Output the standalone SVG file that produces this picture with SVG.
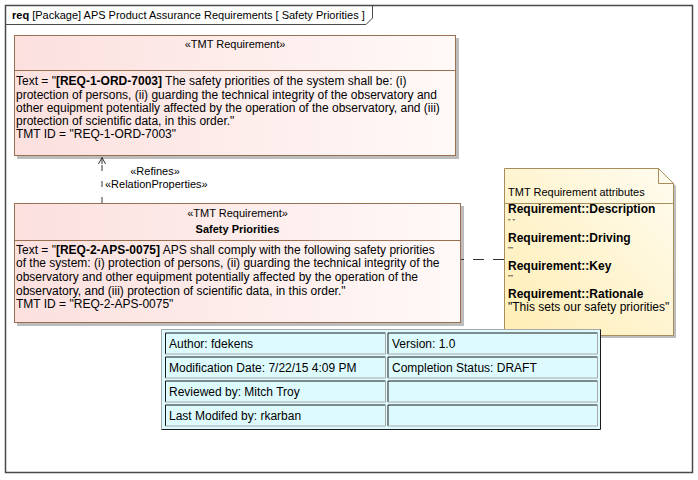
<svg xmlns="http://www.w3.org/2000/svg" width="698" height="480" viewBox="0 0 698 480">
<defs>
<linearGradient id="reqGrad" x1="0" y1="0" x2="1" y2="0">
<stop offset="0" stop-color="#FBE0DE"/>
<stop offset="1" stop-color="#FFF9F8"/>
</linearGradient>
<linearGradient id="noteGrad" x1="0" y1="1" x2="1" y2="0">
<stop offset="0" stop-color="#FFEDB3"/>
<stop offset="1" stop-color="#FFFCF0"/>
</linearGradient>
</defs>
<style>
text { font-family: "Liberation Sans", Arial, sans-serif; fill: #000; }
.t11 { font-size: 11px; }
.t12 { font-size: 12px; }
.b { font-weight: bold; }
.mid { text-anchor: middle; }
.req { fill: url(#reqGrad); stroke: #9A7052; stroke-width: 1; }
.reqline { stroke: #9A7052; stroke-width: 1; }
.shadow { fill: #BDBDBD; }
.note { fill: url(#noteGrad); stroke: #A88E5C; stroke-width: 1; }
.cell { fill: #DDFBFF; }
.dark { stroke: #1A1A1A; stroke-width: 1; fill: none; }
.light { stroke: #A8A8A8; stroke-width: 1; fill: none; }
.conn { fill: none; stroke: #333; stroke-width: 1; }
.q { font-size: 7px; }
</style>

<rect x="0" y="0" width="698" height="480" fill="#FFFFFF"/>

<g id="frame">
<rect x="5.5" y="5.5" width="687" height="467" fill="none" stroke="#4A4A4A" stroke-width="1.5"/>
<path d="M5.5,24.5 H366 L372.5,18 V5.5" fill="none" stroke="#4A4A4A" stroke-width="1"/>
<text x="12" y="19" class="t11"><tspan class="b">req</tspan> [Package] APS Product Assurance Requirements [ Safety Priorities ]</text>
</g>

<g id="req1">
<rect x="17" y="38" width="442" height="121" class="shadow"/>
<rect x="14.5" y="35.5" width="441" height="120" class="req"/>
<line x1="14.5" y1="70.5" x2="455.5" y2="70.5" class="reqline"/>
<text x="235" y="48" class="t11 mid">«TMT Requirement»</text>
<text x="16" y="85" class="t12">Text = "<tspan class="b">[REQ-1-ORD-7003]</tspan> The safety priorities of the system shall be: (i)</text>
<text x="16" y="98.5" class="t12">protection of persons, (ii) guarding the technical integrity of the observatory and</text>
<text x="16" y="111.8" class="t12">other equipment potentially affected by the operation of the observatory, and (iii)</text>
<text x="16" y="125" class="t12">protection of scientific data, in this order."</text>
<text x="16" y="138.3" class="t12">TMT ID = "REQ-1-ORD-7003"</text>
</g>

<g id="req2">
<rect x="17" y="206" width="447" height="120" class="shadow"/>
<rect x="14.5" y="203.5" width="446" height="119" class="req"/>
<line x1="14.5" y1="240.5" x2="460.5" y2="240.5" class="reqline"/>
<text x="237.5" y="217" class="t11 mid">«TMT Requirement»</text>
<text x="237.5" y="233" class="t11 mid b">Safety Priorities</text>
<text x="16" y="253.5" class="t12">Text = "<tspan class="b">[REQ-2-APS-0075]</tspan> APS shall comply with the following safety priorities</text>
<text x="16" y="267.2" class="t12">of the system: (i) protection of persons, (ii) guarding the technical integrity of the</text>
<text x="16" y="280.9" class="t12">observatory and other equipment potentially affected by the operation of the</text>
<text x="16" y="294.6" class="t12">observatory, and (iii) protection of scientific data, in this order."</text>
<text x="16" y="308.3" class="t12">TMT ID = "REQ-2-APS-0075"</text>
</g>

<g id="note">
<path d="M507,171 H661 L676,186 V338 H507 Z" class="shadow"/>
<path d="M504.5,168.5 H658.5 L673.5,183.5 V335.5 H504.5 Z" class="note"/>
<path d="M658.5,168.5 V183.5 H673.5" fill="none" stroke="#A88E5C" stroke-width="1"/>
<line x1="504.5" y1="203.5" x2="673.5" y2="203.5" stroke="#A88E5C" stroke-width="1"/>
<text x="508" y="196" class="t11">TMT Requirement attributes</text>
<text x="508" y="213.3" class="t12 b">Requirement::Description</text>
<text x="508" y="224" class="q">" "</text>
<text x="508" y="241.5" class="t12 b">Requirement::Driving</text>
<text x="508" y="252" class="q">""</text>
<text x="508" y="269.7" class="t12 b">Requirement::Key</text>
<text x="508" y="280.2" class="q">""</text>
<text x="508" y="297.5" class="t12 b">Requirement::Rationale</text>
<text x="508" y="311" class="t12">"This sets our safety priorities"</text>
</g>

<g id="connectors">
<path d="M102,203 V158" class="conn" stroke-dasharray="6,10"/>
<path d="M98.5,164 L102,157.5 L105.5,164" class="conn"/>
<line x1="102" y1="157.5" x2="102" y2="164" class="conn"/>
<text x="155" y="175" class="t11 mid">«Refines»</text>
<text x="105" y="187.5" class="t11">«RelationProperties»</text>
<path d="M504,259.5 H461" class="conn" stroke-dasharray="11,9"/>
</g>

<g id="infoTable">
<rect x="161.5" y="329.5" width="439" height="100" fill="#DDFBFF"/>
<path d="M161.5,429.5 V329.5 H600.5" class="light"/>
<path d="M600.5,329.5 V429.5 H161.5" class="dark"/>

<rect x="165.5" y="333" width="220" height="21" class="cell"/>
<path d="M165.5,354 V333 H385.5" class="dark"/><path d="M385.5,333 V354 H165.5" class="light"/>
<rect x="388" y="333" width="210" height="21" class="cell"/>
<path d="M388,354 V333 H597.5" class="dark"/><path d="M597.5,333 V354 H388" class="light"/>

<rect x="165.5" y="357" width="220" height="21" class="cell"/>
<path d="M165.5,378 V357 H385.5" class="dark"/><path d="M385.5,357 V378 H165.5" class="light"/>
<rect x="388" y="357" width="210" height="21" class="cell"/>
<path d="M388,378 V357 H597.5" class="dark"/><path d="M597.5,357 V378 H388" class="light"/>

<rect x="165.5" y="381" width="220" height="21" class="cell"/>
<path d="M165.5,402 V381 H385.5" class="dark"/><path d="M385.5,381 V402 H165.5" class="light"/>
<rect x="388" y="381" width="210" height="21" class="cell"/>
<path d="M388,402 V381 H597.5" class="dark"/><path d="M597.5,381 V402 H388" class="light"/>

<rect x="165.5" y="405" width="220" height="21" class="cell"/>
<path d="M165.5,426 V405 H385.5" class="dark"/><path d="M385.5,405 V426 H165.5" class="light"/>
<rect x="388" y="405" width="210" height="21" class="cell"/>
<path d="M388,426 V405 H597.5" class="dark"/><path d="M597.5,405 V426 H388" class="light"/>

<text x="169" y="347.5" class="t12">Author: fdekens</text>
<text x="392" y="347.5" class="t12">Version: 1.0</text>
<text x="169" y="371.5" class="t12">Modification Date: 7/22/15 4:09 PM</text>
<text x="392" y="371.5" class="t12">Completion Status: DRAFT</text>
<text x="169" y="395.5" class="t12">Reviewed by: Mitch Troy</text>
<text x="169" y="419.5" class="t12">Last Modifed by: rkarban</text>
</g>
</svg>
